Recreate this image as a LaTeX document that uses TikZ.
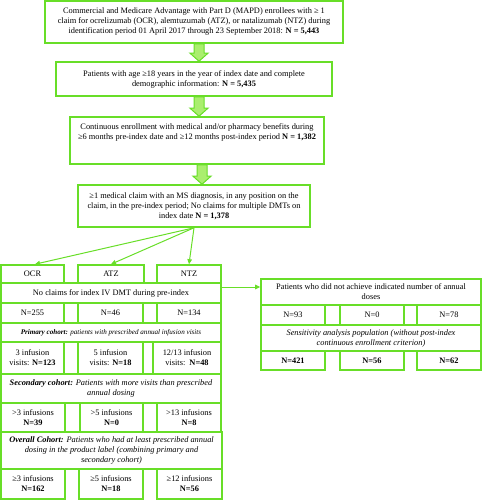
\documentclass[tikz,border=0pt]{standalone}
\usepackage{fontspec}
\setmainfont{Liberation Serif}
\usetikzlibrary{arrows.meta,calc}
\definecolor{gline}{RGB}{104,222,40}
\definecolor{gfill}{RGB}{170,238,110}
\tikzset{
  box/.style={draw=gline, line width=1.6pt, fill=white, inner sep=1pt, align=center,
    font=\fontsize{8.35}{10}\selectfont},
  txt/.style={inner sep=0pt, align=center, font=\fontsize{8.35}{10}\selectfont},
  thinarrow/.style={draw=gline, line width=1pt, -{Triangle[length=5pt,width=4.5pt]}},
  fatarrow/.style={draw=gline, line width=1pt, fill=gfill, line join=miter},
}
\newcommand\fatarr[2]{\draw[fatarrow] let \p1=(#1.south), \p2=(#2.north) in
  (\x1,\y1) -- (\x1+10pt,\y1) -- (\x1+10pt,\y2+8pt) -- (\x1+14pt,\y2+8pt) --
  (\x1+5pt,\y2) -- (\x1-4pt,\y2+8pt) -- (\x1,\y2+8pt) -- cycle;}
\begin{document}
\begin{tikzpicture}[x=1pt,y=-1pt]
\useasboundingbox (0,0) rectangle (482,500);
% top chain
\node[box, minimum width=298pt, minimum height=42pt] (b1) at (194,22)
  {Commercial and Medicare Advantage with Part D (MAPD) enrollees with ≥ 1\\
   claim for ocrelizumab (OCR), alemtuzumab (ATZ), or natalizumab (NTZ) during\\
   identification period 01 April 2017 through 23 September 2018: \textbf{N = 5,443}};
\node[box, minimum width=276pt, minimum height=34pt] (b2) at (194,79)
  {Patients with age ≥18 years in the year of index date and complete\\
   demographic information: \textbf{N = 5,435}};
\node[box, minimum width=254pt, minimum height=47pt] (b3) at (197,140.5) {};
\node[txt] (b3t) at (197,132)
  {Continuous enrollment with medical and/or pharmacy benefits during\\
   ≥6 months pre-index date and ≥12 months post-index period \textbf{N = 1,382}};
\node[box, minimum width=232pt, minimum height=42pt] (b4) at (194,206)
  {≥1 medical claim with an MS diagnosis, in any position on the\\
   claim, in the pre-index period; No claims for multiple DMTs on\\
   index date \textbf{N = 1,378}};
\fatarr{b1}{b2}
\fatarr{b2}{b3}
\fatarr{b3}{b4}
% left table
\node[box, minimum width=220pt, minimum height=20pt] (noclaims) at (111,293)
  {No claims for index IV DMT during pre-index};
\node[box, minimum width=220pt, minimum height=19pt, font=\fontsize{7.1}{9}\selectfont] (prim) at (111,332.5)
  {\textbf{\textit{Primary cohort:}} \textit{patients with prescribed annual infusion visits}};
\node[box, minimum width=220pt, minimum height=29pt] (sec) at (111,388.5)
  {\textbf{\textit{Secondary cohort:}} \textit{Patients with more visits than prescribed}\\
   \textit{annual dosing}};
\node[box, minimum width=221pt, minimum height=37pt] (ovr) at (111.5,450.5)
  {\textbf{\textit{Overall Cohort:}} \textit{Patients who had at least prescribed annual}\\
   \textit{dosing in the product label (combining primary and}\\
   \textit{secondary cohort)}};
\node[box, minimum width=63pt, minimum height=18pt] (ocr) at (32.5,274) {OCR};
\node[box, minimum width=66pt, minimum height=18pt] (atz) at (111,274) {ATZ};
\node[box, minimum width=64pt, minimum height=18pt] (ntz) at (189,274) {NTZ};
\node[box, minimum width=63pt, minimum height=20pt] (n1) at (32.5,313) {N=255};
\node[box, minimum width=65pt, minimum height=20pt] (n2) at (110.5,313) {N=46};
\node[box, minimum width=64pt, minimum height=20pt] (n3) at (189,313) {N=134};
\node[box, minimum width=63pt, minimum height=32pt] (v1) at (32.5,358) {3 infusion\\ visits: \textbf{N=123}};
\node[box, minimum width=65pt, minimum height=32pt] (v2) at (110.5,358) {5 infusion\\ visits: \textbf{N=18}};
\node[box, minimum width=68pt, minimum height=32pt] (v3) at (187,358) {12/13 infusion\\ visits:\ \ \textbf{N=48}};
\node[box, minimum width=64pt, minimum height=29pt] (g1) at (33,417.5) {>3 infusions\\ \textbf{N=39}};
\node[box, minimum width=63pt, minimum height=29pt] (g2) at (111.5,417.5) {>5 infusions\\ \textbf{N=0}};
\node[box, minimum width=64pt, minimum height=29pt] (g3) at (189,417.5) {>13 infusions\\ \textbf{N=8}};
\node[box, minimum width=64pt, minimum height=30pt] (h1) at (33,484) {≥3 infusions\\ \textbf{N=162}};
\node[box, minimum width=64pt, minimum height=30pt] (h2) at (111,484) {≥5 infusions\\ \textbf{N=18}};
\node[box, minimum width=65pt, minimum height=30pt] (h3) at (189.5,484) {≥12 infusions\\ \textbf{N=56}};
% right table
\node[box, minimum width=220pt, minimum height=26pt] (rh) at (371,292)
  {Patients who did not achieve indicated number of annual\\ doses};
\node[box, minimum width=220pt, minimum height=26pt] (rs) at (371,338)
  {\textit{Sensitivity analysis population (without post-index}\\
   \textit{continuous enrollment criterion)}};
\node[box, minimum width=64pt, minimum height=20pt] (r1) at (293,315) {N=93};
\node[box, minimum width=64pt, minimum height=20pt] (r2) at (372,315) {N=0};
\node[box, minimum width=64pt, minimum height=20pt] (r3) at (449,315) {N=78};
\node[box, minimum width=64pt, minimum height=19pt] (s1) at (293,360.5) {\textbf{N=421}};
\node[box, minimum width=64pt, minimum height=19pt] (s2) at (372,360.5) {\textbf{N=56}};
\node[box, minimum width=64pt, minimum height=19pt] (s3) at (449,360.5) {\textbf{N=62}};
% connectors
\draw[thinarrow] (b4.south) -- ([xshift=2.5pt]ocr.north);
\draw[thinarrow] (b4.south) -- (atz.north);
\draw[thinarrow] (b4.south) -- (ntz.north);
\draw[thinarrow] ([yshift=6pt]noclaims.east) -- ([yshift=6pt]noclaims.east -| rh.west);
\end{tikzpicture}
\end{document}
